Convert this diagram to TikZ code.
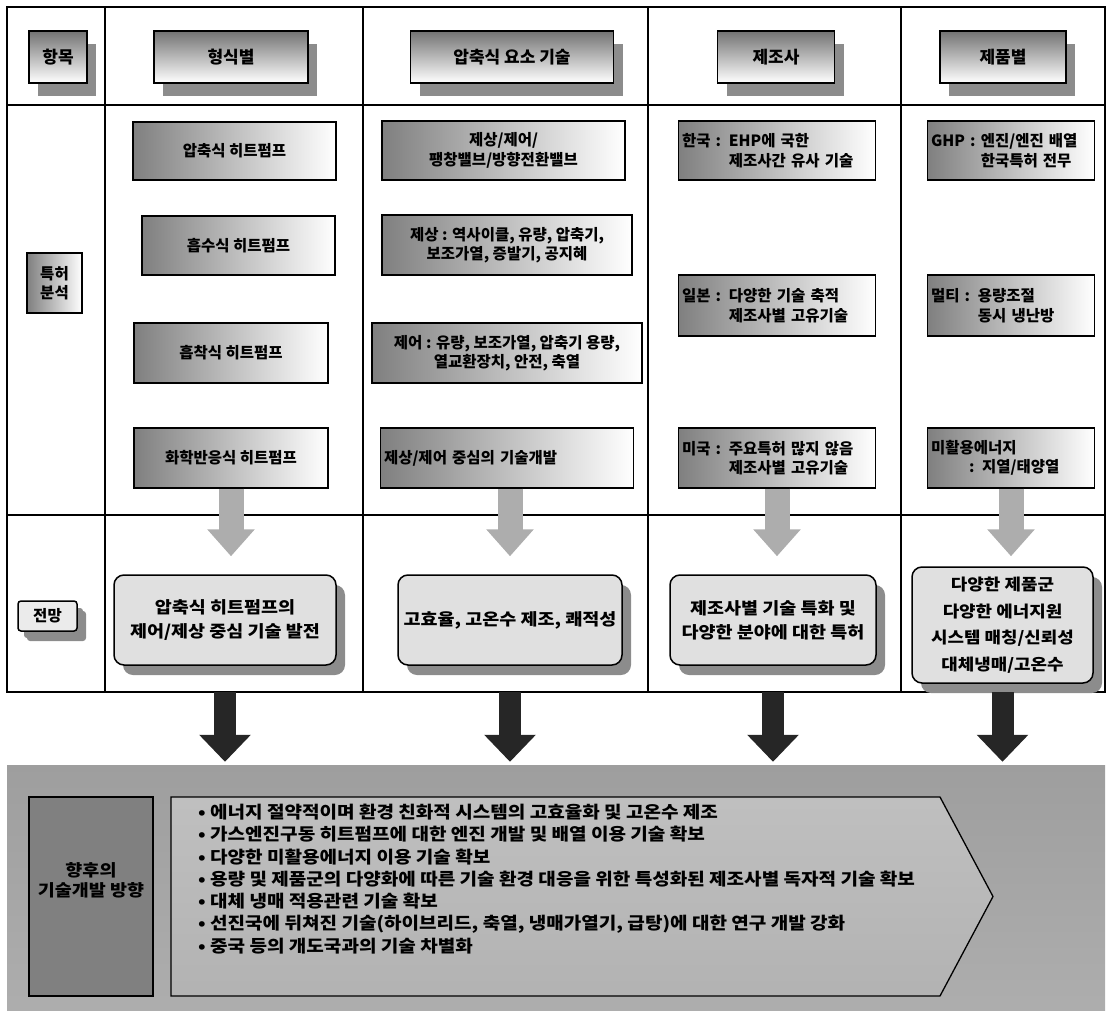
\documentclass[tikz,border=0pt]{standalone}
\usepackage{fontspec}
\setmainfont{Noto Sans CJK KR}
\newfontfamily\krwide{Noto Sans CJK KR}[FakeStretch=1.12]
\usepackage{tikz}
\usetikzlibrary{arrows.meta,shadows,positioning}

\tikzstyle{headbox} = [rectangle, draw = black, line width=1.5pt, top color=black!55, bottom color=white, minimum height=52pt, drop shadow={shadow xshift=9pt, shadow yshift=-13pt, fill=black!45, opacity=1}, font=\bfseries\fontsize{17}{20}\selectfont]
\tikzstyle{patbox} = [rectangle, draw = black, line width=1.3pt, left color=black!50, middle color=black!14, right color=white, minimum height=59pt, align=center, font=\bfseries\fontsize{15.5}{19.5}\selectfont]
\tikzstyle{viewbox} = [rectangle, rounded corners=10pt, draw = black, line width=1.5pt, fill=black!12, align=center, drop shadow={shadow xshift=9pt, shadow yshift=-10pt, fill=black!45, opacity=1}, font=\krwide\bfseries\fontsize{16.5}{24}\selectfont]
\tikzstyle{grayarrow} = [line width=25pt, black!32, -{Triangle[length=27pt, width=46pt]}]
\tikzstyle{blackarrow} = [line width=22pt, black!85, -{Triangle[length=27pt, width=50pt]}]

\begin{document}
\begin{tikzpicture}[x=1pt, y=-1pt]
\useasboundingbox (0,0) rectangle (1112,1017);

\draw[line width=1.8pt] (7,7) rectangle (1105,692);
\draw[line width=1.5pt] (7,105) -- (1105,105);
\draw[line width=1.5pt] (7,515) -- (1105,515);
\foreach \x in {105,363,648,901}
  \draw[line width=1.5pt] (\x,7) -- (\x,692);
\coordinate (tb) at (556,692);

\node(hitem) [headbox, minimum width=58pt] at (58,57) {항목};
\node(hkind) [headbox, minimum width=154pt] at (231,57) {형식별};
\node(hpart) [headbox, minimum width=203pt] at (512,57) {압축식 요소 기술};
\node(hmaker) [headbox, minimum width=117pt] at (776,57) {제조사};
\node(hprod) [headbox, minimum width=126pt] at (1003,57) {제품별};

\node(patent) [patbox, minimum width=55pt, minimum height=60pt] at (54.5,283) {특허\\분석};
\node(outlook) [viewbox, rounded corners=3pt, fill=black!8, minimum width=59pt, minimum height=30pt, inner sep=2pt, drop shadow={shadow xshift=6pt, shadow yshift=-7pt, fill=black!45, opacity=1}, font=\bfseries\fontsize{15.5}{19}\selectfont] at (47.5,616) {전망};

\node(a1) [patbox, minimum width=203pt, minimum height=58pt] at (234.5,151) {압축식 히트펌프};
\node(a2) [patbox, minimum width=193pt] at (238.5,245.5) {흡수식 히트펌프};
\node(a3) [patbox, minimum width=194pt, minimum height=60pt] at (231,353) {흡착식 히트펌프};
\node(a4) [patbox, minimum width=194pt, minimum height=60pt] at (231,458) {화학반응식 히트펌프};

\node(b1) [patbox, minimum width=243pt] at (503.5,150.5) {제상/제어/\\팽창밸브/방향전환밸브};
\node(b2) [patbox, minimum width=250pt, minimum height=60pt] at (507,245) {제상 : 역사이클, 유량, 압축기,\\보조가열, 증발기, 공지혜};
\node(b3) [patbox, minimum width=270pt, minimum height=60pt] at (507,353) {제어 : 유량, 보조가열, 압축기 용량,\\열교환장치, 안전, 축열};
\node(b4) [patbox, text width=246pt, align=left, minimum height=60pt] at (507,458) {제상/제어 중심의 기술개발};

\node(c1) [patbox, text width=190pt, align=left] at (777,150.5) {한국 : EHP에 국한\\\phantom{한국 : }제조사간 유사 기술};
\node(c2) [patbox, text width=190pt, align=left, minimum height=61pt] at (777,305.5) {일본 : 다양한 기술 축적\\\phantom{일본 : }제조사별 고유기술};
\node(c3) [patbox, text width=190pt, align=left, minimum height=60pt] at (777,458) {미국 : 주요특허 많지 않음\\\phantom{미국 : }제조사별 고유기술};

\node(d1) [patbox, text width=160pt, align=left] at (1011,150.5) {GHP : 엔진/엔진 배열\\\phantom{GHP : }한국특허 전무};
\node(d2) [patbox, text width=160pt, align=left, minimum height=61pt] at (1011,305.5) {멀티 : 용량조절\\\phantom{멀티 : }동시 냉난방};
\node(d3) [patbox, text width=160pt, align=left, minimum height=60pt] at (1011,458) {미활용에너지\\\hspace*{38pt}: 지열/태양열};

\node(r1) [viewbox, minimum width=222pt, minimum height=90pt] at (225,620) {압축식 히트펌프의\\제어/제상 중심 기술 발전};
\node(r2) [viewbox, minimum width=224pt, minimum height=90pt] at (510,620) {고효율, 고온수 제조, 쾌적성};
\node(r3) [viewbox, minimum width=206pt, minimum height=90pt] at (773,620) {제조사별 기술 특화 및\\다양한 분야에 대한 특허};
\node(r4) [viewbox, minimum width=181pt, minimum height=116pt, font=\krwide\bfseries\fontsize{16}{26.5}\selectfont] at (1002.5,625) {다양한 제품군\\다양한 에너지원\\시스템 매칭/신뢰성\\대체냉매/고온수};

\draw [grayarrow, shorten >=18pt] (a4.south) -- (a4.south |- r1.north);
\draw [grayarrow, shorten >=18pt] (b4.south -| r2) -- (r2.north);
\draw [grayarrow, shorten >=18pt] (c3.south) -- (c3.south |- r3.north);
\draw [grayarrow, shorten >=10pt] (d3.south) -- (d3.south |- r4.north);

\node(band) [rectangle, minimum width=1098pt, minimum height=245pt, inner sep=0pt, top color=black!38, middle color=black!6, bottom color=black!32] at (556,887.5) {};

\draw [blackarrow, shorten >=3pt] (r1.south |- tb) -- (r1.south |- band.north);
\draw [blackarrow, shorten >=3pt] (r2.south |- tb) -- (r2.south |- band.north);
\draw [blackarrow, shorten >=3pt] (r3.south |- tb) -- (r3.south |- band.north);
\draw [blackarrow, shorten >=3pt] (r4.south |- tb) -- (r4.south |- band.north);

\node(future) [rectangle, draw = black, line width=1.3pt, minimum width=124pt, minimum height=199pt, top color=black!50, middle color=white, bottom color=black!50, align=center, font=\krwide\bfseries\fontsize{16.5}{20}\selectfont] at (91,896.5) {향후의\\기술개발 방향\\[14pt]};

\draw[line width=1.3pt, top color=black!25, middle color=white, bottom color=black!30] (171,797) -- (940,797) -- (993,896.5) -- (940,996) -- (171,996) -- cycle;
\node(plan) [anchor=west, align=left, inner sep=0pt, font=\krwide\bfseries\fontsize{17}{22.3}\selectfont] at (198,879) {• 에너지 절약적이며 환경 친화적 시스템의 고효율화 및 고온수 제조\\• 가스엔진구동 히트펌프에 대한 엔진 개발 및 배열 이용 기술 확보\\• 다양한 미활용에너지 이용 기술 확보\\• 용량 및 제품군의 다양화에 따른 기술 환경 대응을 위한 특성화된 제조사별 독자적 기술 확보\\• 대체 냉매 적용관련 기술 확보\\• 선진국에 뒤쳐진 기술(하이브리드, 축열, 냉매가열기, 급탕)에 대한 연구 개발 강화\\• 중국 등의 개도국과의 기술 차별화};

\end{tikzpicture}
\end{document}
